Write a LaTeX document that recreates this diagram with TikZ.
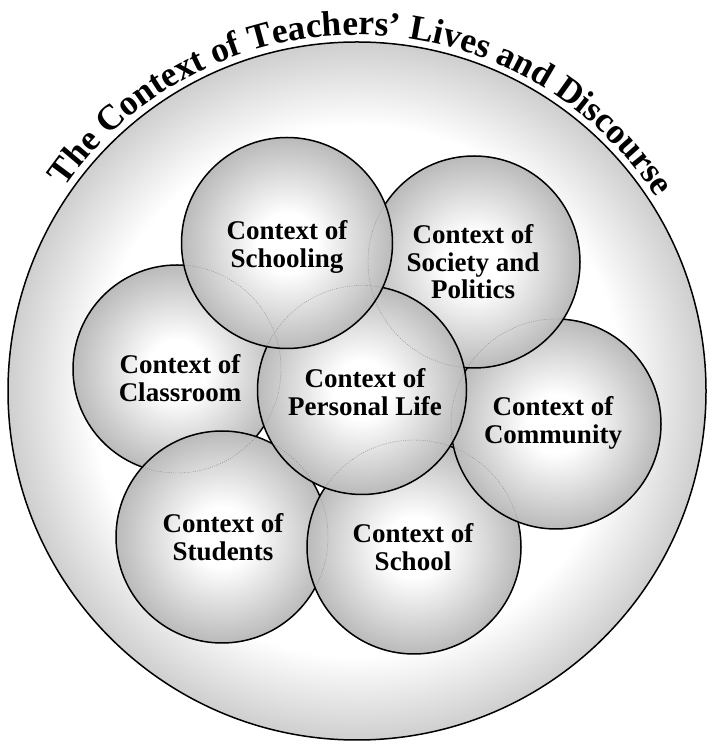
\documentclass[tikz,border=0pt]{standalone}
\usepackage{fontspec}
\setmainfont{Liberation Serif}
\usetikzlibrary{decorations.text}
\pgfdeclareradialshading{ball}{\pgfpoint{0bp}{0bp}}{color(0bp)=(white); color(7bp)=(white); color(25bp)=(black!27); color(50bp)=(black!27)}
\pgfdeclareradialshading{bigball}{\pgfpoint{0bp}{0bp}}{color(0bp)=(white); color(19bp)=(white); color(25bp)=(black!19); color(50bp)=(black!19)}
\newcommand\titlefont{\fontsize{35.5}{35.5}\selectfont\bfseries}
\newcommand\labelfont{\fontsize{27}{27.5}\selectfont\bfseries}
\newcommand\cutout[2]{\clip (-10,-10) rectangle (722,756) (#1) circle[radius=#2];}
\begin{document}
\begin{tikzpicture}[x=1pt,y=1pt,
  rim/.style={draw=black, line width=1.5pt},
  hidden/.style={draw=black!45, line width=0.4pt, dash pattern=on 1pt off 1.2pt},
  lbl/.style={font=\labelfont, align=center, text=black, inner sep=0pt}]
\useasboundingbox (0,0) rectangle (712,746);
\coordinate (oc) at (357,355);
\shade[shading=bigball] (oc) circle[radius=349];
\draw[rim] (oc) circle[radius=349];
% fills, bottom to top: classroom, students, school, community, society, personal, schooling
\foreach \cc/\rr in {{177,377}/104,{222,209}/106,{414,199}/107,{556,322}/105,{474,484}/106,{362,356}/104.5,{287,503}/105.5}
  \shade[shading=ball] (\cc) circle[radius=\rr];
\foreach \cc/\rr in {{177,377}/104,{222,209}/106,{414,199}/107,{556,322}/105,{474,484}/106,{362,356}/104.5,{287,503}/105.5}
  \draw[hidden] (\cc) circle[radius=\rr];
% visible outlines
\begin{scope}[even odd rule]
\cutout{222,209}{106}\cutout{414,199}{107}\cutout{556,322}{105}\cutout{474,484}{106}\cutout{362,356}{104.5}\cutout{287,503}{105.5}
\draw[rim] (177,377) circle[radius=104];
\end{scope}
\begin{scope}[even odd rule]
\cutout{414,199}{107}\cutout{556,322}{105}\cutout{474,484}{106}\cutout{362,356}{104.5}\cutout{287,503}{105.5}
\draw[rim] (222,209) circle[radius=106];
\end{scope}
\begin{scope}[even odd rule]
\cutout{556,322}{105}\cutout{474,484}{106}\cutout{362,356}{104.5}\cutout{287,503}{105.5}
\draw[rim] (414,199) circle[radius=107];
\end{scope}
\begin{scope}[even odd rule]
\cutout{474,484}{106}\cutout{362,356}{104.5}\cutout{287,503}{105.5}
\draw[rim] (556,322) circle[radius=105];
\end{scope}
\begin{scope}[even odd rule]
\cutout{362,356}{104.5}\cutout{287,503}{105.5}
\draw[rim] (474,484) circle[radius=106];
\end{scope}
\begin{scope}[even odd rule]
\cutout{287,503}{105.5}
\draw[rim] (362,356) circle[radius=104.5];
\end{scope}
\draw[rim] (287,503) circle[radius=105.5];
% labels
\node[lbl] (schooling) at (287,499) {Context of\\Schooling};
\node[lbl] (society) at (473,484) {Context of\\Society and\\Politics};
\node[lbl] (classroom) at (180,368) {Context of\\Classroom};
\node[lbl] (personal) at (365,354) {Context of\\Personal Life};
\node[lbl] (community) at (553,323) {Context of\\Community};
\node[lbl] (students) at (223,209) {Context of\\Students};
\node[lbl] (school) at (413,199) {Context of\\School};
% title on arc
\path[decorate, decoration={text along path, text align=center,
  text={|\titlefont|The Context of Teachers' Lives and Discourse}}]
  ([shift={(169:356)}]oc) arc[start angle=169, end angle=9, radius=356];
\end{tikzpicture}
\end{document}
